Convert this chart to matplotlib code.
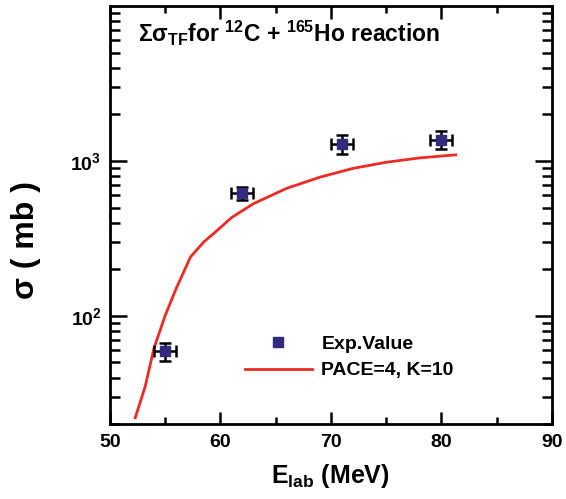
import math
import matplotlib
matplotlib.use("Agg")
import matplotlib.pyplot as plt
from matplotlib.ticker import FixedLocator, LogLocator, FuncFormatter, MultipleLocator, NullFormatter

plt.rcParams['font.family'] = ['Liberation Sans', 'DejaVu Sans']
plt.rcParams['font.weight'] = 'bold'
plt.rcParams['mathtext.fontset'] = 'custom'
plt.rcParams['mathtext.rm'] = 'Liberation Sans:bold'
plt.rcParams['mathtext.it'] = 'Liberation Sans:bold'
plt.rcParams['mathtext.bf'] = 'Liberation Sans:bold'
plt.rcParams['mathtext.sf'] = 'Liberation Sans:bold'
plt.rcParams['mathtext.default'] = 'regular'

# Experimental data
exp_energy = [55, 62, 71, 80]
exp_sigma = [59, 620, 1290, 1370]
exp_xerr = [1.0, 1.0, 1.0, 1.0]
exp_yerr = [8, 60, 180, 180]

# PACE calculation
pace_energy = [52.3, 53.2, 54.0, 55.0, 56.0, 57.3, 58.5, 59.5, 61.0, 63.0,
               66.0, 69.0, 72.0, 75.0, 78.0, 81.3]
pace_sigma = [22, 35, 62, 100, 150, 240, 300, 345, 430, 530,
              665, 785, 895, 980, 1045, 1095]

fig = plt.figure(figsize=(5.66, 4.99), dpi=100)
ax = fig.add_axes([0.194, 0.150, 0.781, 0.838])

ax.plot(pace_energy, pace_sigma, color='#ee2a24', lw=2.0, label='PACE=4, K=10', zorder=2)
ax.errorbar(exp_energy, exp_sigma, xerr=exp_xerr, yerr=exp_yerr, fmt='none',
            ecolor='black', elinewidth=1.8, capsize=4, capthick=1.8, zorder=3)
ax.plot(exp_energy, exp_sigma, ls='none', marker='s', ms=7, color='#33297f',
        label='Exp.Value', zorder=4)

ax.set_yscale('log')
ax.set_xlim(50, 90)
ax.set_ylim(20, 10000)

ax.xaxis.set_major_locator(MultipleLocator(10))
ax.xaxis.set_minor_locator(MultipleLocator(5))
ax.yaxis.set_major_locator(FixedLocator([100, 1000]))
ax.yaxis.set_minor_locator(LogLocator(base=10, subs=[2, 3, 4, 5, 6, 7, 8, 9]))
ax.yaxis.set_minor_formatter(NullFormatter())
ax.yaxis.set_major_formatter(FuncFormatter(lambda v, p: r'$10^{%d}$' % round(math.log10(v))))

ax.tick_params(which='both', direction='in', top=True, right=True, width=1.8)
ax.tick_params(which='major', axis='x', length=9, labelsize=14, pad=7)
ax.tick_params(which='minor', axis='x', length=5)
ax.tick_params(which='major', axis='y', length=12, labelsize=14, pad=6)
ax.tick_params(which='minor', axis='y', length=7)
for s in ax.spines.values():
    s.set_linewidth(2.0)

ax.set_xlabel(r'E$_{\mathregular{lab}}$ (MeV)', fontsize=18, fontweight='bold')
ax.xaxis.set_label_coords(0.5, -0.09)
ax.set_ylabel('σ ( mb )', fontsize=23, fontweight='bold')
ax.yaxis.set_label_coords(-0.155, 0.44)

ax.text(0.063, 0.935, r'Σσ$_{TF}$for $^{12}$C + $^{165}$Ho reaction',
        transform=ax.transAxes, fontsize=16.5, fontweight='bold', va='center', ha='left')

handles, labels = ax.get_legend_handles_labels()
order = [1, 0]
leg = ax.legend([handles[i] for i in order], [labels[i] for i in order],
                loc='upper left', bbox_to_anchor=(0.305, 0.212), frameon=False,
                handlelength=3.45, handletextpad=0.5, borderpad=0,
                borderaxespad=0, labelspacing=0.45, prop={'weight': 'bold', 'size': 14})

fig.savefig('out.png', dpi=100)
